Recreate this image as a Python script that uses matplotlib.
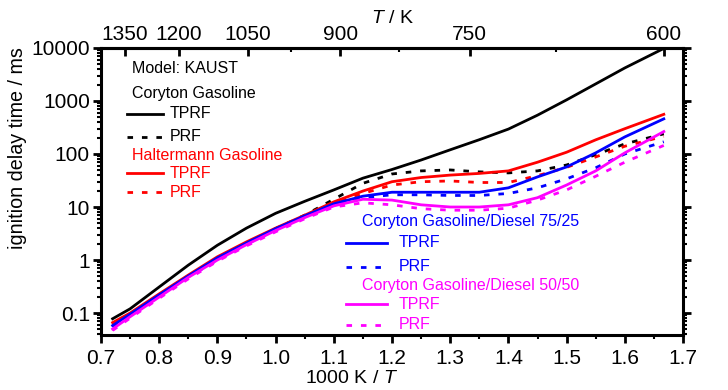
import matplotlib
matplotlib.use("Agg")
import matplotlib.pyplot as plt
from matplotlib.ticker import FixedLocator, MultipleLocator, NullFormatter, FixedFormatter

plt.rcParams['font.family'] = ['Liberation Sans', 'DejaVu Sans']
plt.rcParams['mathtext.fontset'] = 'custom'
plt.rcParams['mathtext.it'] = 'Liberation Sans:italic'
plt.rcParams['mathtext.rm'] = 'Liberation Sans'

# 1000 K / T
x = [0.72, 0.75, 0.8, 0.85, 0.9, 0.95, 1.0, 1.05, 1.1, 1.15, 1.2, 1.25, 1.3, 1.35, 1.4, 1.45, 1.5, 1.55, 1.6, 1.667]

# ignition delay time / ms
coryton_tprf = [0.078, 0.12, 0.31, 0.8, 1.9, 4.0, 7.6, 12.8, 21, 35, 51, 77, 120, 186, 295, 540, 1050, 2100, 4200, 9800]
coryton_prf = [0.06, 0.095, 0.22, 0.5, 1.05, 2.05, 3.9, 7.0, 14, 28, 42, 48, 50, 46, 44, 48, 62, 97, 155, 240]
halter_tprf = [0.066, 0.1, 0.23, 0.52, 1.15, 2.2, 4.0, 7.0, 12.5, 20, 30, 36, 40, 43, 48, 70, 108, 185, 300, 560]
halter_prf = [0.062, 0.095, 0.22, 0.5, 1.05, 2.1, 3.9, 6.8, 12, 18, 26, 30, 31, 29, 29, 39, 56, 88, 140, 215]
d25_tprf = [0.058, 0.095, 0.22, 0.5, 1.1, 2.1, 3.9, 6.8, 11.5, 16, 19, 19, 19, 19, 23, 37, 57, 105, 210, 460]
d25_prf = [0.055, 0.09, 0.21, 0.48, 1.0, 2.0, 3.7, 6.5, 11, 15, 17, 17, 16.5, 16.5, 18, 23, 34, 55, 100, 170]
d50_tprf = [0.05, 0.085, 0.2, 0.47, 1.0, 1.95, 3.6, 6.3, 10.5, 14, 13.5, 11, 10, 10, 11, 15, 26, 48, 105, 265]
d50_prf = [0.047, 0.08, 0.19, 0.44, 0.95, 1.85, 3.4, 6.0, 10, 12, 11, 9.3, 8.7, 8.7, 9.5, 13.5, 21, 38, 70, 145]

xticks = [0.7, 0.8, 0.9, 1.0, 1.1, 1.2, 1.3, 1.4, 1.5, 1.6, 1.7]
xtick_labels = ['0.7', '0.8', '0.9', '1.0', '1.1', '1.2', '1.3', '1.4', '1.5', '1.6', '1.7']
yticks = [0.1, 1, 10, 100, 1000, 10000]
ytick_labels = ['0.1', '1', '10', '100', '1000', '10000']
T_major = [1350, 1200, 1050, 900, 750, 600]
T_minor = [975, 825, 675]

lw = 2.0
dash = (0, (2, 3.2))

fig = plt.figure(figsize=(7.28, 3.90), dpi=100)
ax = fig.add_axes([0.1387, 0.141, 0.7995, 0.736])

series = [
    (coryton_tprf, 'black', '-'), (coryton_prf, 'black', dash),
    (halter_tprf, 'red', '-'), (halter_prf, 'red', dash),
    (d25_tprf, 'blue', '-'), (d25_prf, 'blue', dash),
    (d50_tprf, 'magenta', '-'), (d50_prf, 'magenta', dash),
]
for vals, c, ls in series:
    ax.plot(x, vals, color=c, linestyle=ls, lw=lw)

ax.set_yscale('log')
ax.set_xlim(0.7, 1.7)
ax.set_ylim(0.0385, 10000)

ax.set_xticks(xticks)
ax.set_xticklabels(xtick_labels)
ax.xaxis.set_minor_locator(MultipleLocator(0.05))
ax.yaxis.set_major_locator(FixedLocator(yticks))
ax.yaxis.set_major_formatter(FixedFormatter(ytick_labels))
ax.yaxis.set_minor_formatter(NullFormatter())

ax.tick_params(axis='both', which='major', labelsize=15, width=2, length=6, direction='out')
ax.tick_params(axis='both', which='minor', width=1.5, length=3, direction='out')
ax.tick_params(axis='y', which='both', right=True)
ax.tick_params(axis='y', which='major', pad=2)
ax.tick_params(axis='x', which='major', pad=4)
for s in ax.spines.values():
    s.set_linewidth(2.2)

ax.set_xlabel('1000 K / $T$', fontsize=14)
ax.xaxis.set_label_coords(0.43, -0.122)
ax.set_ylabel('ignition delay time / ms', fontsize=14.2)
ax.yaxis.set_label_coords(-0.127, 0.652)

sec = ax.secondary_xaxis('top', functions=(lambda v: 1000.0 / v, lambda v: 1000.0 / v))
sec.xaxis.set_major_locator(FixedLocator(T_major))
sec.xaxis.set_minor_locator(FixedLocator(T_minor))
sec.xaxis.set_minor_formatter(NullFormatter())
sec.tick_params(which='major', labelsize=15, width=2, length=6, direction='in', pad=3)
sec.tick_params(which='minor', width=1.5, length=3, direction='in')
sec.spines['top'].set_linewidth(2.2)
sec.set_xlabel('$T$ / K', fontsize=14, labelpad=1)

# legend drawn as text blocks
fs = 11.5
tr = ax.transAxes
ax.text(0.0533, 0.930, 'Model: KAUST', transform=tr, fontsize=fs, va='center')
ax.text(0.0533, 0.843, 'Coryton Gasoline', transform=tr, fontsize=fs, va='center')
ax.text(0.0533, 0.624, 'Haltermann Gasoline', transform=tr, fontsize=fs, va='center', color='red')
ax.text(0.448, 0.394, 'Coryton Gasoline/Diesel 75/25', transform=tr, fontsize=fs, va='center', color='blue')
ax.text(0.448, 0.171, 'Coryton Gasoline/Diesel 50/50', transform=tr, fontsize=fs, va='center', color='magenta')

entries = [
    (0.0447, 0.1065, 0.1186, 0.770, 'black', '-', 'TPRF'),
    (0.0447, 0.1065, 0.1186, 0.690, 'black', dash, 'PRF'),
    (0.0447, 0.1065, 0.1186, 0.564, 'red', '-', 'TPRF'),
    (0.0447, 0.1065, 0.1186, 0.498, 'red', dash, 'PRF'),
    (0.421, 0.491, 0.512, 0.321, 'blue', '-', 'TPRF'),
    (0.421, 0.491, 0.512, 0.237, 'blue', dash, 'PRF'),
    (0.421, 0.491, 0.512, 0.108, 'magenta', '-', 'TPRF'),
    (0.421, 0.491, 0.512, 0.035, 'magenta', dash, 'PRF'),
]
for x0, x1, xt, yy, c, ls, lab in entries:
    ax.plot([x0, x1], [yy, yy], transform=tr, color=c, linestyle=ls, lw=lw, clip_on=False)
    ax.text(xt, yy, lab, transform=tr, fontsize=fs, va='center', color=c)

fig.savefig('out.png', dpi=100)
